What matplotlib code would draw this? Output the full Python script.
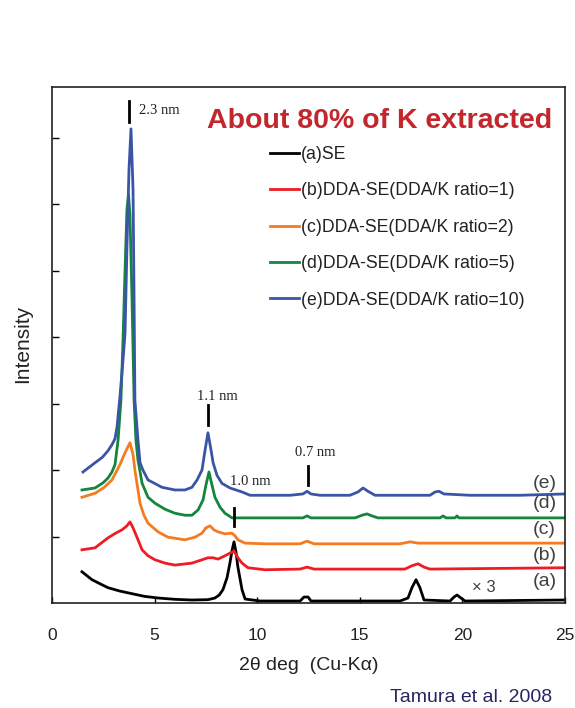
import matplotlib
matplotlib.use("Agg")
import matplotlib.pyplot as plt

# ---------------- data ----------------
a_x = [1.46, 1.95, 2.40, 2.73, 3.30, 3.90, 4.50, 5.17, 6.00, 6.82, 7.60, 7.94, 8.15, 8.33, 8.53,
       8.67, 8.78, 8.87, 8.96, 9.06, 9.26, 9.41, 10.14,
       12.09, 12.28, 12.48, 12.62, 16.96, 17.35, 17.54, 17.74, 17.93, 18.13, 19.40, 19.59, 19.74,
       19.93, 20.13, 25.0]
a_y = [0.47, 0.35, 0.28, 0.23, 0.18, 0.14, 0.10, 0.075, 0.055, 0.045, 0.05, 0.075, 0.12, 0.20,
       0.38, 0.60, 0.80, 0.92, 0.78, 0.54, 0.20, 0.06, 0.03,
       0.03, 0.09, 0.09, 0.03, 0.03, 0.075, 0.23, 0.35, 0.23, 0.045, 0.03, 0.09, 0.12,
       0.075, 0.03, 0.045]

b_x = [1.46, 2.10, 2.73, 3.10, 3.41, 3.65, 3.80, 3.95, 4.14, 4.39, 4.68, 5.02, 5.50, 5.99, 6.82,
       7.31, 7.60, 7.85, 8.09, 8.43, 8.67, 8.87, 9.06, 9.26, 9.55, 10.38, 12.09, 12.43, 12.77,
       17.20, 17.54, 17.84, 18.13, 18.42, 25.0]
b_y = [0.80, 0.83, 0.98, 1.05, 1.10, 1.16, 1.22, 1.13, 0.99, 0.80, 0.71, 0.65, 0.60, 0.57, 0.60,
       0.65, 0.68, 0.68, 0.66, 0.71, 0.75, 0.78, 0.68, 0.60, 0.53, 0.50, 0.51, 0.54, 0.51,
       0.51, 0.56, 0.59, 0.54, 0.51, 0.53]

c_x = [1.46, 2.10, 2.55, 2.92, 3.31, 3.56, 3.80, 3.95, 4.04, 4.19, 4.29, 4.48, 4.68, 5.17, 5.65,
       6.48, 6.97, 7.31, 7.50, 7.70, 7.89, 8.09, 8.43, 8.77, 8.92, 9.06, 9.41, 10.38, 12.09,
       12.43, 12.77, 16.96, 17.45, 17.84, 25.0]
c_y = [1.59, 1.65, 1.74, 1.85, 2.08, 2.26, 2.41, 2.23, 2.00, 1.70, 1.50, 1.32, 1.20, 1.07, 0.99,
       0.95, 0.99, 1.05, 1.13, 1.16, 1.10, 1.07, 1.04, 1.05, 1.01, 0.95, 0.90, 0.89, 0.89,
       0.93, 0.89, 0.89, 0.92, 0.90, 0.90]

d_x = [1.46, 2.10, 2.50, 2.73, 2.92, 3.07, 3.22, 3.36, 3.46, 3.56, 3.65, 3.73, 3.80, 3.90, 4.00,
       4.09, 4.19, 4.39, 4.68, 5.02, 5.51, 5.99, 6.48, 6.82, 7.12, 7.36, 7.50, 7.65, 7.80, 7.94,
       8.19, 8.43, 8.77, 10.14, 12.23, 12.43, 12.62, 14.77, 15.11, 15.35, 15.59, 15.89, 18.91,
       19.06, 19.20, 19.64, 19.74, 19.83, 25.0]
d_y = [1.70, 1.73, 1.81, 1.88, 1.97, 2.08, 2.45, 3.05, 3.95, 5.01, 5.91, 6.14, 5.83, 4.56, 3.05,
       2.45, 2.15, 1.80, 1.59, 1.50, 1.41, 1.35, 1.32, 1.32, 1.40, 1.55, 1.77, 1.97, 1.77, 1.59,
       1.44, 1.35, 1.28, 1.28, 1.28, 1.31, 1.28, 1.28, 1.32, 1.34, 1.31, 1.28, 1.28,
       1.31, 1.28, 1.28, 1.31, 1.28, 1.28]

e_x = [1.51, 2.10, 2.45, 2.73, 2.92, 3.07, 3.17, 3.31, 3.46, 3.56, 3.65, 3.75, 3.85, 3.95, 4.00,
       4.04, 4.19, 4.29, 4.43, 4.68, 4.87, 5.36, 5.99, 6.48, 6.82, 7.07, 7.31, 7.46, 7.60, 7.75,
       7.85, 8.04, 8.28, 8.67, 9.26, 9.65, 10.38, 11.60, 12.23, 12.43, 12.62, 13.06, 14.52,
       14.91, 15.16, 15.40, 15.74, 16.96, 18.42, 18.67, 18.86, 19.10, 20.37, 22.81, 25.0]
e_y = [1.97, 2.11, 2.19, 2.29, 2.38, 2.47, 2.65, 3.10, 3.65, 4.06, 5.31, 6.51, 7.13, 6.21, 4.56,
       3.05, 2.45, 2.11, 2.00, 1.85, 1.82, 1.74, 1.70, 1.70, 1.74, 1.85, 2.00, 2.30, 2.56, 2.30,
       2.11, 1.92, 1.80, 1.73, 1.67, 1.62, 1.62, 1.62, 1.64, 1.68, 1.64, 1.62, 1.62,
       1.67, 1.73, 1.68, 1.62, 1.62, 1.62, 1.67, 1.68, 1.64, 1.62, 1.62, 1.64]

series_labels = ["(a)SE", "(b)DDA-SE(DDA/K ratio=1)", "(c)DDA-SE(DDA/K ratio=2)",
                 "(d)DDA-SE(DDA/K ratio=5)", "(e)DDA-SE(DDA/K ratio=10)"]
series_colors = ["#000000", "#ee1c25", "#f47b20", "#13853c", "#3a55a6"]
curve_tags = ["(a)", "(b)", "(c)", "(d)", "(e)"]
tag_y = [0.32, 0.71, 1.10, 1.49, 1.80]

peak_labels = ["2.3 nm", "1.1 nm", "1.0 nm", "0.7 nm"]
peak_x = [3.75, 7.60, 8.87, 12.48]
peak_mark_lo = [7.23, 2.68, 1.16, 1.77]
peak_mark_hi = [7.55, 2.98, 1.43, 2.06]
peak_text_x = [4.24, 8.04, 9.65, 12.82]
peak_text_y = [7.41, 3.11, 1.82, 2.26]

x_ticks = [0, 5, 10, 15, 20, 25]
y_ticks = [1, 2, 3, 4, 5, 6, 7]

# ---------------- figure ----------------
plt.rcParams['font.family'] = ['Liberation Sans', 'DejaVu Sans']
fig = plt.figure(figsize=(5.75, 7.08), dpi=100)
ax = fig.add_axes([52/575, 1-603/708, (565-52)/575, (603-87)/708])

xs = [a_x, b_x, c_x, d_x, e_x]
ys = [a_y, b_y, c_y, d_y, e_y]
handles = []
for xx, yy, col, lab in zip(xs, ys, series_colors, series_labels):
    h, = ax.plot(xx, yy, color=col, lw=2.0, label=lab, solid_joinstyle='round')
    handles.append(h)

ax.set_xlim(0, 25)
ax.set_ylim(0, 7.76)
ax.set_xticks(x_ticks)
ax.set_yticks(y_ticks)
ax.set_yticklabels([])
ax.tick_params(axis='x', direction='in', length=4, width=1, pad=18, labelsize=12.5,
               labelcolor='#222222')
ax.tick_params(axis='y', direction='in', length=5, width=1)
for s in ax.spines.values():
    s.set_linewidth(1.2)
    s.set_color('#222222')

ax.set_xlabel("2θ deg  (Cu-Kα)", fontsize=14, color='#222222', labelpad=10)
fig.text(23/575, 1-344/708, "Intensity", rotation=90, fontsize=15, color='#222222',
         ha='center', va='center')

# peak markers
for px_, lo, hi, tx, ty, lab in zip(peak_x, peak_mark_lo, peak_mark_hi, peak_text_x, peak_text_y,
                                     peak_labels):
    ax.plot([px_, px_], [lo, hi], color='black', lw=2.0)
    ax.text(tx, ty, lab, fontsize=10.5, family=['Liberation Serif'], color='#222222',
            ha='left' if lab == "2.3 nm" else 'center', va='center')

for t, yv in zip(curve_tags, tag_y):
    ax.text(24.0, yv, t, fontsize=14, color='#404040', ha='center', va='center')
ax.text(21.05, 0.23, "× 3", fontsize=12, color='#404040', ha='center', va='center')

ax.text(15.98, 7.25, "About 80% of K extracted", fontsize=20.5, fontweight='bold',
        color='#c1272d', ha='center', va='center')

leg = fig.legend(handles=handles, labels=series_labels, loc='upper left',
                 bbox_to_anchor=(270/575, 1-146/708), frameon=False, fontsize=12.7,
                 handlelength=1.65, handletextpad=0.12, labelspacing=1.1,
                 borderpad=0, borderaxespad=0)
for t in leg.get_texts():
    t.set_color('#222222')

fig.text(552/575, 1-697/708, "Tamura et al. 2008", fontsize=14, color='#262660',
         ha='right', va='center')

fig.savefig("out.png", dpi=100)
